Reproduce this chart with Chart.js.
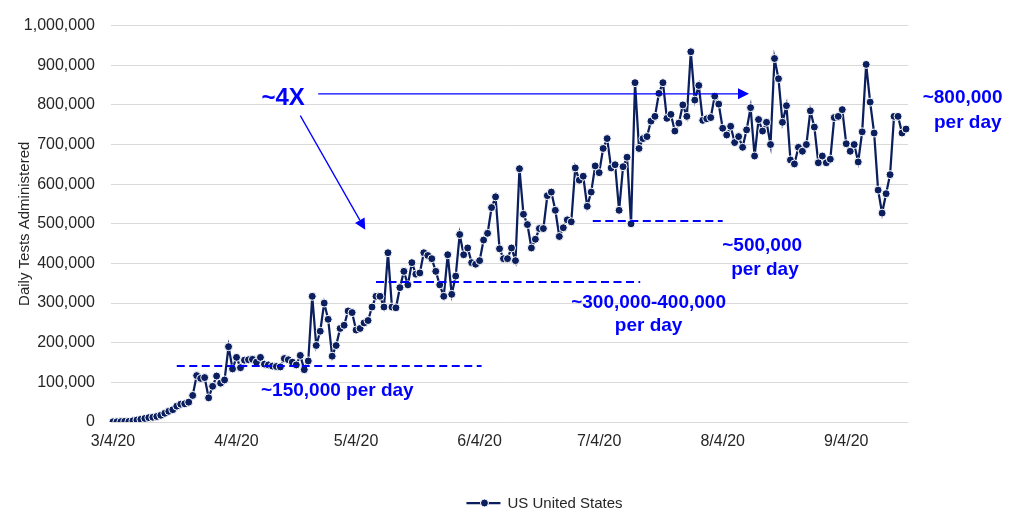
<!DOCTYPE html>
<html><head><meta charset="utf-8">
<script src="https://cdn.jsdelivr.net/npm/chart.js@4"></script>
<style>html,body{margin:0;padding:0;background:#fff;}#wrap{width:1021px;height:515px;position:relative;}</style>
</head><body><div id="wrap"><canvas id="c"></canvas></div>
<script>
// ---- data ----
const startDay = {year: 2020, month: 3, day: 4};
const tickLabels = ['3/4/20','4/4/20','5/4/20','6/4/20','7/4/20','8/4/20','9/4/20'];
const seriesName = 'US United States';
const yTickValues = [0,100000,200000,300000,400000,500000,600000,700000,800000,900000,1000000];
const dailyTests = [
  500,700,1000,1200,1500,3000,5000,7000,9000,11000,12000,14000,17000,22000,27000,31000,40000,45000,46000,50000,
  67000,117000,110000,112000,61000,90000,116000,98000,106000,190000,134000,163000,137000,156000,157000,158000,151000,163000,146000,144000,141000,140000,
  139000,160000,157000,151000,144000,168000,132000,154000,317000,
  193000,229000,300000,259000,166000,193000,236000,244000,280000,276000,232000,236000,
  250000,256000,290000,317000,317000,290000,427000,290000,288000,339000,380000,346000,402000,373000,376000,427000,420000,412000,380000,346000,
  317000,422000,322000,368000,473000,422000,439000,402000,398000,407000,459000,476000,541000,568000,437000,412000,412000,439000,407000,639000,
  524000,498000,439000,461000,488000,488000,571000,580000,534000,468000,
  490000,510000,505000,641000,610000,620000,544000,580000,646000,629000,690000,715000,641000,649000,534000,644000,668000,500000,856000,690000,
  715000,720000,759000,771000,829000,856000,766000,776000,734000,754000,800000,771000,934000,812000,849000,761000,765000,768000,822000,802000,
  741000,724000,746000,705000,720000,693000,737000,793000,671000,763000,734000,756000,700000,917000,866000,756000,798000,661000,651000,693000,
  683000,700000,785000,744000,654000,671000,654000,663000,768000,771000,788000,702000,683000,700000,656000,732000,902000,807000,729000,585000,
  527000,576000,624000,771000,771000,729000,739000
];
const categories = [];
for (let i = 0; i < dailyTests.length; i++) {
  const d = new Date(startDay.year, startDay.month - 1, startDay.day + i);
  categories.push((d.getMonth() + 1) + '/' + d.getDate() + '/' + String(d.getFullYear()).slice(2));
}

// ---- annotations (in data coordinates: category index, value) ----
const dashedLines = [
  {x0: 16, x1: 92.5, y: 141000},
  {x0: 66, x1: 132.3, y: 354000},
  {x0: 120.4, x1: 153, y: 508000}
];
const arrows = [
  {x0: 51.5, y0: 828000, x1: 159.6, y1: 828000},
  {x0: 47, y0: 773000, x1: 63.3, y1: 485000}
];
const notes = [
  {text: '~4X', x: 42.7, y: 817000, size: 24},
  {text: '~150,000 per day', x: 56.3, y: 78000, size: 19},
  {text: '~300,000-400,000', x: 134.4, y: 302000, size: 19},
  {text: 'per day', x: 134.4, y: 244000, size: 19},
  {text: '~500,000', x: 162.9, y: 444000, size: 19},
  {text: 'per day', x: 163.6, y: 385000, size: 19},
  {text: '~800,000', x: 213.2, y: 817000, size: 19},
  {text: 'per day', x: 214.5, y: 754000, size: 19}
];

const navy = '#0b1f5e';
const annoBlue = '#0000ff';
const axisFont = "'Liberation Sans',Arial,sans-serif";
const textColor = '#262626';

const annotationPlugin = {
  id: 'annos',
  afterDatasetsDraw(chart) {
    const ctx = chart.ctx, xs = chart.scales.x, ys = chart.scales.y;
    ctx.save();
    ctx.strokeStyle = annoBlue; ctx.fillStyle = annoBlue;
    ctx.lineWidth = 2; ctx.setLineDash([8, 4.5]);
    dashedLines.forEach(l => {
      const y = Math.round(ys.getPixelForValue(l.y));
      ctx.beginPath();
      ctx.moveTo(xs.getPixelForValue(l.x0), y);
      ctx.lineTo(xs.getPixelForValue(l.x1), y);
      ctx.stroke();
    });
    ctx.setLineDash([]);
    ctx.lineWidth = 1.3;
    arrows.forEach(a => {
      const x0 = xs.getPixelForValue(a.x0), y0 = ys.getPixelForValue(a.y0);
      const x1 = xs.getPixelForValue(a.x1), y1 = ys.getPixelForValue(a.y1);
      const ang = Math.atan2(y1 - y0, x1 - x0), L = 11, W = 5.5;
      const bx = x1 - L * Math.cos(ang), by = y1 - L * Math.sin(ang);
      ctx.beginPath(); ctx.moveTo(x0, y0); ctx.lineTo(bx, by); ctx.stroke();
      ctx.beginPath();
      ctx.moveTo(x1, y1);
      ctx.lineTo(bx + W * Math.sin(ang), by - W * Math.cos(ang));
      ctx.lineTo(bx - W * Math.sin(ang), by + W * Math.cos(ang));
      ctx.closePath(); ctx.fill();
    });
    ctx.textAlign = 'center'; ctx.textBaseline = 'middle';
    notes.forEach(n => {
      ctx.font = 'bold ' + n.size + "px 'Liberation Sans',Arial,sans-serif";
      ctx.fillText(n.text, xs.getPixelForValue(n.x), ys.getPixelForValue(n.y));
    });
    ctx.restore();
  },
  afterDraw(chart) {
    // legend
    const ctx = chart.ctx;
    const cx = 544.5, cy = 503;
    ctx.save();
    ctx.font = "15px 'Liberation Sans',Arial,sans-serif";
    const tw = ctx.measureText(seriesName).width;
    const lineLen = 34, gap = 7;
    const total = lineLen + gap + tw;
    const x0 = cx - total / 2;
    ctx.strokeStyle = navy; ctx.lineWidth = 2.25;
    ctx.beginPath(); ctx.moveTo(x0, cy); ctx.lineTo(x0 + lineLen, cy); ctx.stroke();
    ctx.fillStyle = navy; ctx.strokeStyle = '#fff'; ctx.lineWidth = 1;
    ctx.beginPath(); ctx.arc(x0 + lineLen / 2 + 1, cy, 4, 0, Math.PI * 2); ctx.fill(); ctx.stroke();
    ctx.fillStyle = textColor; ctx.textAlign = 'left'; ctx.textBaseline = 'middle';
    ctx.fillText(seriesName, x0 + lineLen + gap, cy + 1);
    ctx.restore();
  }
};

new Chart(document.getElementById('c'), {
  type: 'line',
  data: {
    labels: categories,
    datasets: [{
      label: seriesName,
      data: dailyTests,
      borderColor: navy,
      borderWidth: 2.25,
      pointBackgroundColor: navy,
      pointBorderColor: '#ffffff',
      pointBorderWidth: 1,
      pointRadius: 4,
      tension: 0,
      fill: false
    }]
  },
  options: {
    responsive: true,
    maintainAspectRatio: false,
    animation: false,
    events: [],
    layout: {padding: {left: 0, right: 113, top: 12, bottom: 0}},
    plugins: {legend: {display: false}, tooltip: {enabled: false}},
    scales: {
      x: {
        type: 'category',
        offset: true,
        grid: {display: false, drawTicks: false},
        border: {display: false},
        afterFit(s) { s.height = 93; },
        ticks: {
          autoSkip: false, maxRotation: 0, minRotation: 0, padding: 10,
          color: textColor,
          font: {family: axisFont, size: 16},
          callback(v) { const l = categories[v]; return tickLabels.includes(l) ? l : ''; }
        }
      },
      y: {
        min: 0, max: 1000000,
        afterFit(s) { s.width = 111; },
        afterBuildTicks(s) { s.ticks = yTickValues.map(v => ({value: v})); },
        grid: {color: '#d9d9d9', lineWidth: 1, drawTicks: false},
        border: {display: false},
        ticks: {
          padding: 16, color: textColor,
          font: {family: axisFont, size: 16},
          callback(v) { return v.toLocaleString('en-US'); }
        },
        title: {
          display: true, text: 'Daily Tests Administered', color: textColor,
          font: {family: axisFont, size: 15}, padding: {top: 16, bottom: 0}
        }
      }
    }
  },
  plugins: [annotationPlugin]
});
</script></body></html>
